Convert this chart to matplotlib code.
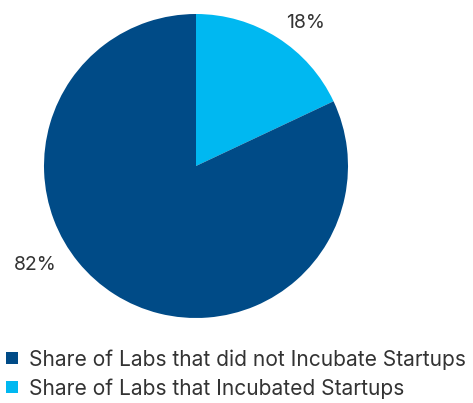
import matplotlib
matplotlib.use("Agg")
import matplotlib.pyplot as plt
from matplotlib.lines import Line2D

labels = ["Share of Labs that Incubated Startups", "Share of Labs that did not Incubate Startups"]
values = [18, 82]
colors = ["#00B8F1", "#004B87"]
pct_text = ["18%", "82%"]

plt.rcParams['font.family'] = ['Inter', 'DejaVu Sans']
txt_color = "#333333"

fig = plt.figure(figsize=(4.73, 4.03), dpi=100)
ax = fig.add_axes([44/473, 85/403, 304/473, 304/403])
ax.pie(values, colors=colors, startangle=90, counterclock=False,
       wedgeprops=dict(linewidth=0))
ax.set_aspect('equal')
ax.set_xlim(-1, 1)
ax.set_ylim(-1, 1)

ax.text(0.72, 0.94, pct_text[0], ha='center', va='center', fontsize=14, color=txt_color)
ax.text(-1.06, -0.65, pct_text[1], ha='center', va='center', fontsize=14, color=txt_color)

handles = [Line2D([0], [0], marker='s', linestyle='none', markersize=8.5,
                  markerfacecolor=colors[1], markeredgewidth=0),
           Line2D([0], [0], marker='s', linestyle='none', markersize=8.5,
                  markerfacecolor=colors[0], markeredgewidth=0)]
fig.legend(handles, [labels[1], labels[0]], loc='upper left',
           bbox_to_anchor=(2/473, 1 - 345/403), frameon=False,
           fontsize=15.1, handlelength=0.6, handletextpad=0.5,
           labelspacing=0.4, borderaxespad=0, borderpad=0.2,
           labelcolor=txt_color)

fig.savefig("out.png", dpi=100)
